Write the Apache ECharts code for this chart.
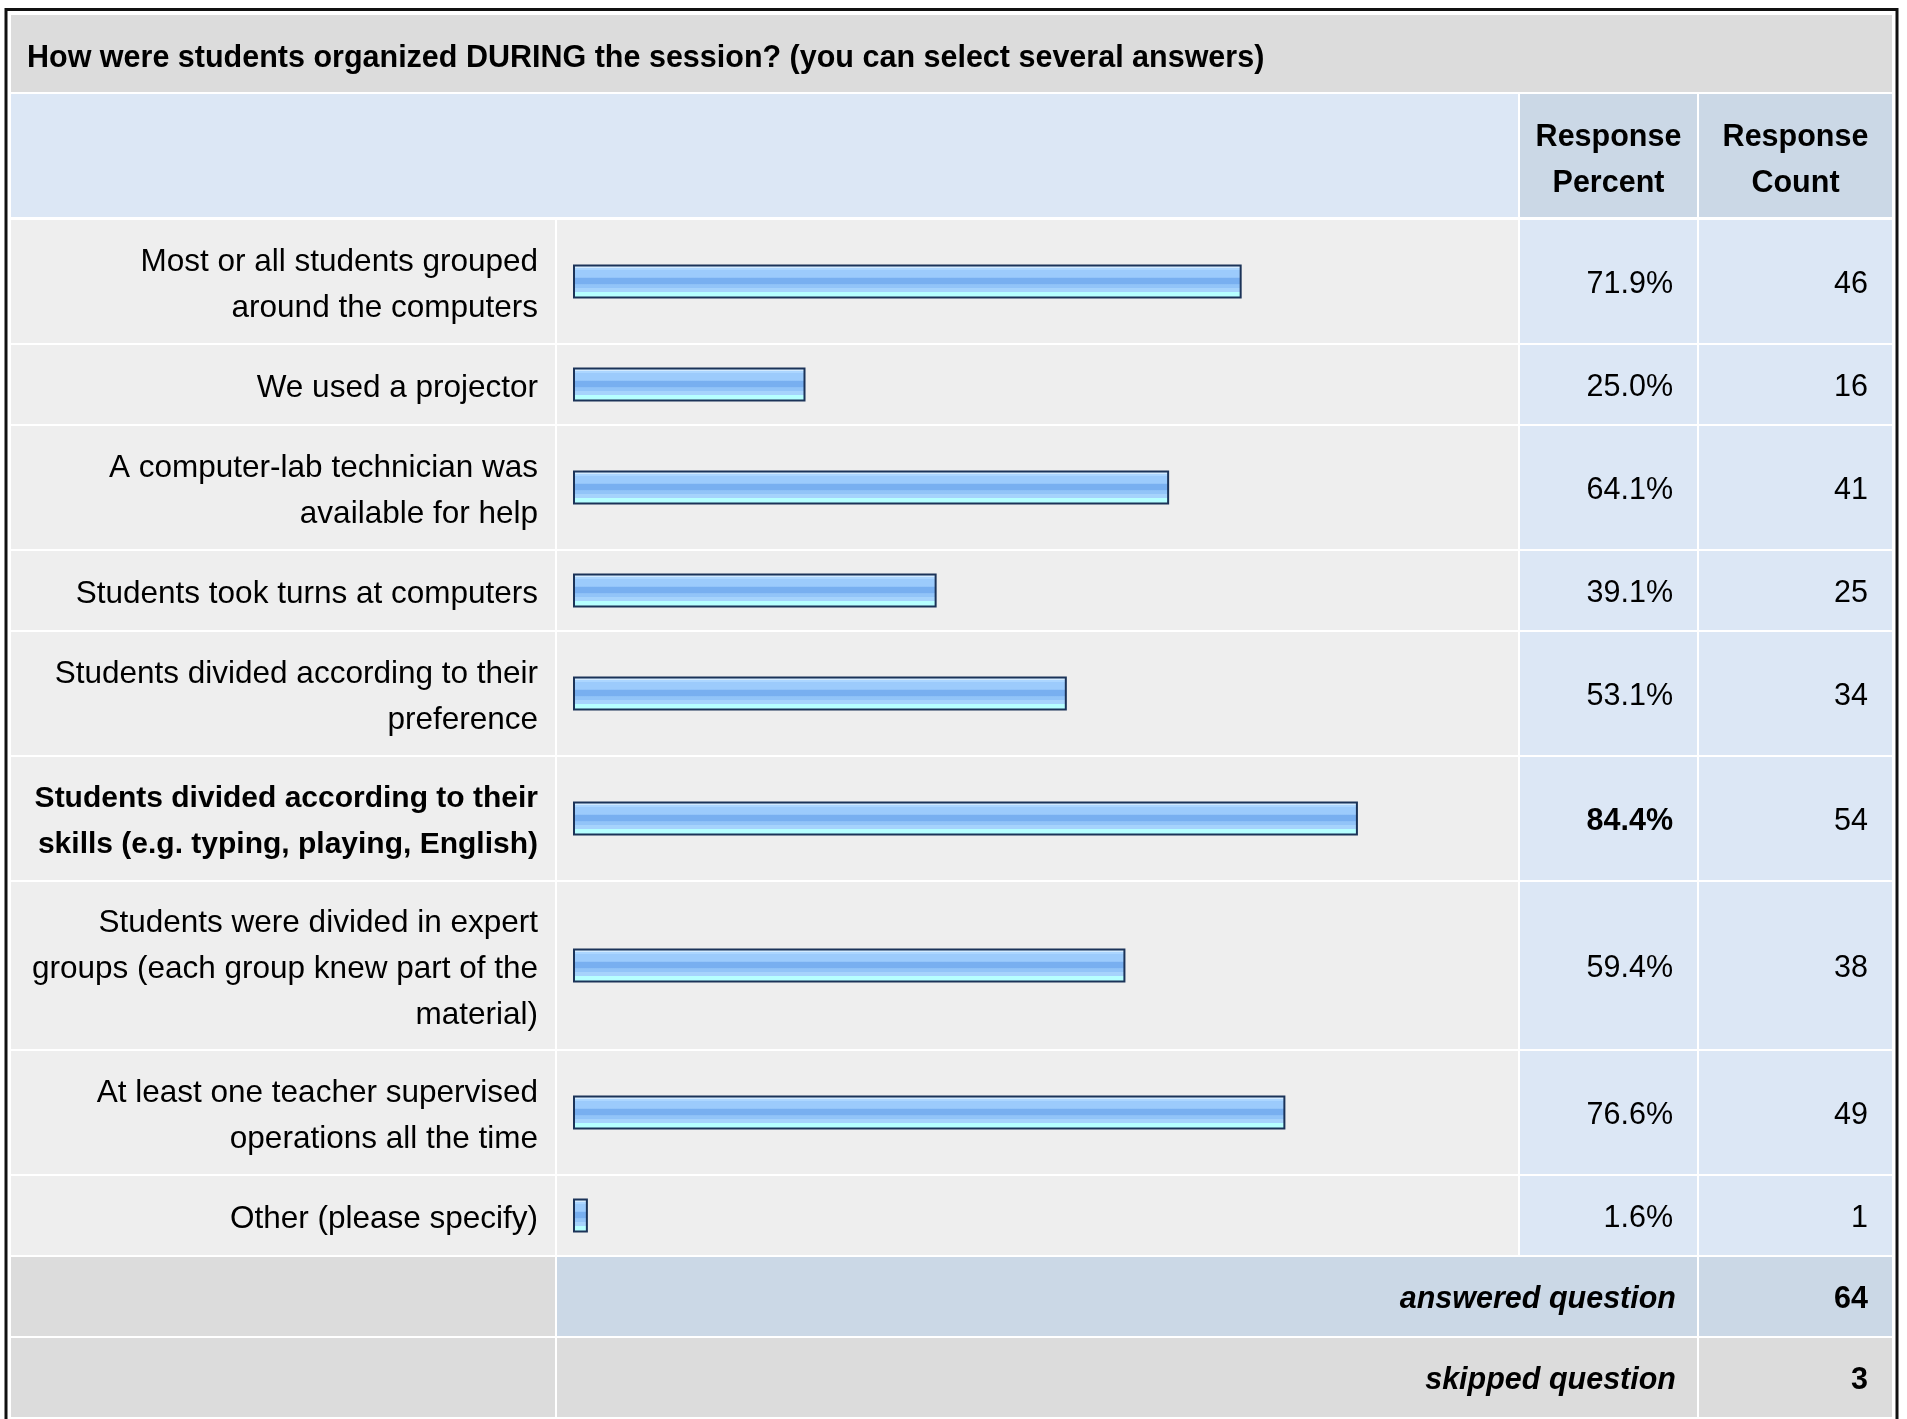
<!DOCTYPE html>
<html>
<head>
<meta charset="utf-8">
<script src="https://cdn.jsdelivr.net/npm/echarts@6/dist/echarts.min.js"></script>
<style>
  html, body { margin: 0; padding: 0; background: #ffffff; }
  #chart { width: 1907px; height: 1419px; }
</style>
</head>
<body>
<div id="chart"></div>
<script>
// ---- data ----
const titleText = "How were students organized DURING the session? (you can select several answers)";
const columnHeaders = ["Response\nPercent", "Response\nCount"];
const categories = [
  "Most or all students grouped\naround the computers",
  "We used a projector",
  "A computer-lab technician was\navailable for help",
  "Students took turns at computers",
  "Students divided according to their\npreference",
  "Students divided according to their\nskills (e.g. typing, playing, English)",
  "Students were divided in expert\ngroups (each group knew part of the\nmaterial)",
  "At least one teacher supervised\noperations all the time",
  "Other (please specify)"
];
const responsePercent = [71.9, 25.0, 64.1, 39.1, 53.1, 84.4, 59.4, 76.6, 1.6];
const responseCount = [46, 16, 41, 25, 34, 54, 38, 49, 1];
const footerLabels = ["answered question", "skipped question"];
const footerValues = [64, 3];

// ---- layout / style ----
const FONT = '"Liberation Sans", Arial, Helvetica, sans-serif';
const FS = 30.5;        // bold headings, numbers
const FS_LABEL = 31.5;  // normal row labels
const FS_LABEL_B = 30;  // highlighted (bold) row label
const LH = 46;
const GAP = 2;
const DY = 3.5;         // text baseline nudge
const COL = { labelL: 11, labelR: 555, barL: 557, barR: 1518, pctL: 1520, pctR: 1697, cntL: 1699, cntR: 1892 };
const BAR_ZERO = 573, BAR_FULL = 930;   // pixel position of 0 and length of 100%
const PCT_RIGHT = 1673, CNT_RIGHT = 1868, LABEL_RIGHT = 538, FOOT_RIGHT = 1676;
const C = { grey: '#dcdcdc', lightBlue: '#dce7f5', midBlue: '#cbd8e6', cell: '#eeeeee' };

const maxIdx = responsePercent.indexOf(Math.max.apply(null, responsePercent));

const barFill = {
  type: 'linear', x: 0, y: 0, x2: 0, y2: 1,
  colorStops: [
    { offset: 0.00, color: '#d2eaff' }, { offset: 0.09, color: '#d2eaff' },
    { offset: 0.10, color: '#acd6ff' }, { offset: 0.16, color: '#acd6ff' },
    { offset: 0.17, color: '#9ccbfc' }, { offset: 0.38, color: '#9ccbfc' },
    { offset: 0.39, color: '#78aff0' }, { offset: 0.58, color: '#78aff0' },
    { offset: 0.59, color: '#92c4f8' }, { offset: 0.68, color: '#92c4f8' },
    { offset: 0.69, color: '#a6d3fc' }, { offset: 0.80, color: '#a6d3fc' },
    { offset: 0.81, color: '#b6ffff' }, { offset: 1.00, color: '#b6ffff' }
  ]
};

const grids = [], xAxes = [], yAxes = [], series = [], elements = [];
function rect(x, y, w, h, fill) {
  elements.push({ type: 'rect', z: -10, silent: true, shape: { x: x, y: y, width: w, height: h }, style: { fill: fill } });
}
function text(str, x, y, align, weight, style) {
  elements.push({ type: 'text', z: 10, silent: true, x: x, y: y + DY,
    style: { text: str, fill: '#000', align: align, verticalAlign: 'middle',
      fontSize: FS, fontWeight: weight, fontStyle: style || 'normal', fontFamily: FONT, lineHeight: LH } });
}
// axis label: rich text with a thin spacer line on top to nudge the block down
function shiftedLabel(fontSize, fontWeight, margin) {
  return {
    margin: margin, align: 'right', color: '#000',
    formatter: function (v) {
      return '{s| }\n' + String(v).split('\n').map(function (l) { return '{n|' + l + '}'; }).join('\n');
    },
    rich: {
      s: { fontSize: 1, lineHeight: 2 * DY, height: 2 * DY, align: 'right' },
      n: { fontSize: fontSize, fontWeight: fontWeight, fontFamily: FONT, lineHeight: LH, color: '#000', align: 'right' }
    }
  };
}

// title band
rect(COL.labelL, 15, COL.cntR - COL.labelL, 77, C.grey);
text(titleText, 27, 55, 'left', 'bold');
// header row
rect(COL.labelL, 94, COL.barR - COL.labelL, 123, C.lightBlue);
rect(COL.pctL, 94, COL.pctR - COL.pctL, 123, C.midBlue);
rect(COL.cntL, 94, COL.cntR - COL.cntL, 123, C.midBlue);
text(columnHeaders[0], (COL.pctL + COL.pctR) / 2, 157, 'center', 'bold');
text(columnHeaders[1], (COL.cntL + COL.cntR) / 2, 157, 'center', 'bold');

let rowTop = 220;
categories.forEach(function (cat, i) {
  const lines = cat.split('\n').length;
  const h = 44 * lines + 35;
  rect(COL.labelL, rowTop, COL.labelR - COL.labelL, h, C.cell);
  rect(COL.barL, rowTop, COL.barR - COL.barL, h, C.cell);
  rect(COL.pctL, rowTop, COL.pctR - COL.pctL, h, C.lightBlue);
  rect(COL.cntL, rowTop, COL.cntR - COL.cntL, h, C.lightBlue);

  grids.push({ left: BAR_ZERO, width: BAR_FULL, top: rowTop, height: h, containLabel: false });
  xAxes.push({ type: 'value', gridIndex: i, min: 0, max: 100, show: false });
  const common = { type: 'category', gridIndex: i, axisLine: { show: false }, axisTick: { show: false }, splitLine: { show: false } };
  const isMax = i === maxIdx;
  const bold = isMax ? 'bold' : 'normal';
  const barEnd = BAR_ZERO + BAR_FULL;
  yAxes.push(Object.assign({}, common, { position: 'left', data: [cat],
    axisLabel: shiftedLabel(isMax ? FS_LABEL_B : FS_LABEL, bold, BAR_ZERO - LABEL_RIGHT) }));
  yAxes.push(Object.assign({}, common, { position: 'right', data: [responsePercent[i].toFixed(1) + '%'],
    axisLabel: shiftedLabel(FS, bold, PCT_RIGHT - barEnd) }));
  yAxes.push(Object.assign({}, common, { position: 'right', data: [String(responseCount[i])],
    axisLabel: shiftedLabel(FS, 'normal', CNT_RIGHT - barEnd) }));
  series.push({ type: 'bar', xAxisIndex: i, yAxisIndex: 3 * i, data: [responsePercent[i]], barWidth: 34, silent: true,
    itemStyle: { color: barFill, borderColor: '#1b3358', borderWidth: 2 } });
  rowTop += h + GAP;
});

// footer rows
footerLabels.forEach(function (lab, k) {
  const h = 79;
  const midFill = k === 0 ? C.midBlue : C.grey;
  rect(COL.labelL, rowTop, COL.labelR - COL.labelL, h, C.grey);
  rect(COL.barL, rowTop, COL.pctR - COL.barL, h, midFill);
  rect(COL.cntL, rowTop, COL.cntR - COL.cntL, h, midFill);
  text(lab, FOOT_RIGHT, rowTop + h / 2, 'right', 'bold', 'italic');
  text(String(footerValues[k]), CNT_RIGHT, rowTop + h / 2, 'right', 'bold');
  rowTop += h + GAP;
});

// outer border
elements.push({ type: 'rect', z: 20, silent: true, shape: { x: 6, y: 9.5, width: 1891, height: 1500 },
  style: { fill: 'none', stroke: '#111', lineWidth: 3 } });

const chart = echarts.init(document.getElementById('chart'));
chart.setOption({
  animation: false,
  backgroundColor: '#ffffff',
  grid: grids, xAxis: xAxes, yAxis: yAxes, series: series,
  graphic: { elements: elements }
});
</script>
</body>
</html>
